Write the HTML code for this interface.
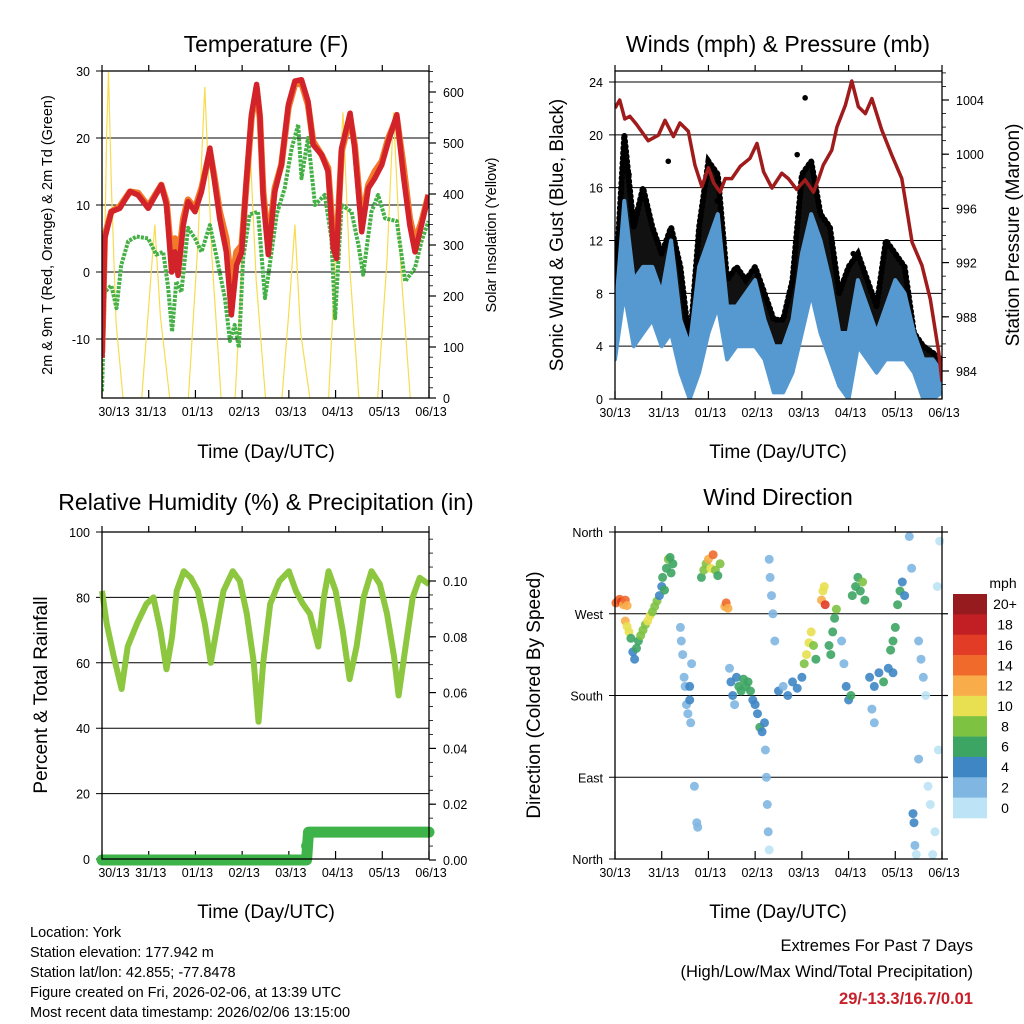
<!DOCTYPE html>
<html><head><meta charset="utf-8">
<style>
html,body{margin:0;padding:0;background:#fff;}
svg{display:block;font-family:"Liberation Sans",sans-serif;}
</style></head>
<body>
<svg id="fig" width="1024" height="1024" viewBox="0 0 1024 1024" xmlns="http://www.w3.org/2000/svg">
<rect x="0" y="0" width="1024" height="1024" fill="#fff"/>
<text x="266" y="52" font-size="23" text-anchor="middle">Temperature (F)</text>
<text x="778" y="52" font-size="23" text-anchor="middle">Winds (mph) &amp; Pressure (mb)</text>
<text x="266" y="510" font-size="23" text-anchor="middle">Relative Humidity (%) &amp; Precipitation (in)</text>
<text x="778" y="505" font-size="23" text-anchor="middle">Wind Direction</text>
<text x="266" y="458" font-size="19" text-anchor="middle">Time (Day/UTC)</text>
<text x="778" y="458" font-size="19" text-anchor="middle">Time (Day/UTC)</text>
<text x="266" y="918" font-size="19" text-anchor="middle">Time (Day/UTC)</text>
<text x="778" y="918" font-size="19" text-anchor="middle">Time (Day/UTC)</text>
<text transform="translate(52,235) rotate(-90)" font-size="14.5" text-anchor="middle">2m &amp; 9m T (Red, Orange) &amp; 2m Td (Green)</text>
<text transform="translate(496,235) rotate(-90)" font-size="14.5" text-anchor="middle">Solar Insolation (Yellow)</text>
<text transform="translate(563,235) rotate(-90)" font-size="19" text-anchor="middle">Sonic Wind &amp; Gust (Blue, Black)</text>
<text transform="translate(1019,235) rotate(-90)" font-size="19" text-anchor="middle">Station Pressure (Maroon)</text>
<text transform="translate(47,695) rotate(-90)" font-size="19" text-anchor="middle">Percent &amp; Total Rainfall</text>
<text transform="translate(540,695) rotate(-90)" font-size="19" text-anchor="middle">Direction (Colored By Speed)</text>
<g font-size="14.5">
<text x="30" y="937">Location: York</text>
<text x="30" y="957">Station elevation: 177.942 m</text>
<text x="30" y="977">Station lat/lon: 42.855; -77.8478</text>
<text x="30" y="997">Figure created on Fri, 2026-02-06, at 13:39 UTC</text>
<text x="30" y="1017">Most recent data timestamp: 2026/02/06 13:15:00</text>
</g>
<text x="973" y="951" font-size="16.5" text-anchor="end">Extremes For Past 7 Days</text>
<text x="973" y="977" font-size="16.5" text-anchor="end">(High/Low/Max Wind/Total Precipitation)</text>
<text x="973" y="1004" font-size="16.5" font-weight="bold" fill="#c8202a" text-anchor="end">29/-13.3/16.7/0.01</text>
</svg>
<script>
// ---------- data ----------
const dayLabels = ["30/13","31/13","01/13","02/13","03/13","04/13","05/13","06/13"];
const tempTicks = [30,20,10,0,-10];
const solarTicks = [600,500,400,300,200,100,0];
const speedTicks = [24,20,16,12,8,4,0];
const pressTicks = [1004,1000,996,992,988,984];
const rhTicks = [100,80,60,40,20,0];
const rainTicks = ["0.10","0.08","0.06","0.04","0.02","0.00"];
const dirTicks = ["North","West","South","East","North"];
const speedBins = ["20+","18","16","14","12","10","8","6","4","2","0"];

const tempT = [0,0.06,0.2,0.38,0.6,0.77,0.99,1.27,1.38,1.49,1.56,1.63,1.74,1.84,1.99,2.13,2.31,2.41,2.52,2.66,2.77,2.88,2.99,3.09,3.2,3.31,3.38,3.45,3.56,3.7,3.84,3.99,4.13,4.27,4.41,4.52,4.7,4.84,4.95,5.02,5.13,5.31,5.41,5.56,5.7,5.84,5.99,6.13,6.31,6.45,6.59,6.7,6.84,6.99];
const temp2m = [-12.8,5,9,9.5,12,11.5,9.5,13,10,0,3,-0.5,7,10.5,9,12,18.5,13.5,8,3,-6.4,1,3,13.5,23.5,28,23.5,11,2.6,12,16,25,28.5,28.7,25.5,19,17.5,15,3.6,2,18.5,23.7,18.5,6,12.5,14,16,19.5,23.5,14.5,7,3,7,11.5];
const temp9m = [-12,5.5,9,9.8,12,11.8,9.8,13,10.5,2,5,1,8,10.8,9.5,12.5,18,14,9,5,-2,3,4,13,23,27.5,23,12,4,12.5,16,24.5,28,28.2,25,19.5,17.5,15.5,5,3.5,18,23,19,7.5,13,15,16.5,20,23,16,8,4.5,7.5,11.5];
const dewT = [0,0.06,0.2,0.31,0.41,0.56,0.74,0.99,1.16,1.31,1.41,1.5,1.59,1.7,1.84,1.99,2.13,2.31,2.49,2.63,2.74,2.84,2.93,3.02,3.16,3.34,3.49,3.59,3.74,3.91,4.06,4.2,4.27,4.41,4.56,4.77,4.91,4.99,5.13,5.34,5.49,5.59,5.77,5.91,6.06,6.31,6.49,6.7,6.84,6.99];
const dewVals = [-17.8,-3,-2,-5.4,1,4.6,5.3,5,2.6,3,-2,-8.9,-1.4,-3,6.6,5,3,7,1,-3.9,-10.3,-7.9,-11.3,2,8.6,9,-3.9,1,8.6,12.5,18.5,22,14,20,10,11.5,5,-6.9,10,9,4,-0.4,9,11.5,8,7.6,-1.4,0.6,4.6,7.6];
const solarT = [0,0.05,0.1,0.14,0.2,0.3,0.45, 0.85,1.0,1.13,1.25,1.45, 1.85,2.05,2.2,2.35,2.55, 2.85,3.0,3.16,3.3,3.5, 3.85,4.0,4.13,4.25,4.45, 4.85,5.0,5.16,5.3,5.5, 5.9,6.1,6.24,6.4,6.6];
const solarVals = [0,250,520,640,420,150,0, 0,180,340,160,0, 0,300,610,280,0, 0,260,510,230,0, 0,170,340,130,0, 0,280,560,260,0, 0,270,560,250,0];

const windT = [0,0.2,0.4,0.6,0.8,1.0,1.2,1.4,1.6,1.8,2.0,2.2,2.4,2.6,2.8,3.0,3.2,3.4,3.6,3.8,4.0,4.2,4.4,4.6,4.8,5.0,5.2,5.4,5.6,5.8,6.0,6.2,6.4,6.6,6.8,7.0];
const windLo = [3,8,4,5,6,4,5,2,0,2,5,7,3,4,4,4,3,0.5,0.5,2,5,8,5,3,1,0,4,3,2,3,3,3,2,0,0,0.5];
const windHi = [6,15,9,10,10,8,12,6,4,10,12,14,7,7,8,9,6,4,4,6,11,14,12,9,5,5,9,7,5,7,9,8,5,3,3,2];
const gustHi = [8,20,13,16,13,11,13,10,4,13,18,17,9,10,9,10,8,6,6,9,17,18,14,13,8,10,11,9,7,12,11,10,5,4,3.5,3];
const gustOutT = [1.14,2.19,3.9,4.07,0.3,5.1];
const gustOutV = [18,15,18.5,22.8,17,11];
const pressT = [0,0.1,0.21,0.32,0.46,0.71,0.93,1.07,1.25,1.39,1.57,1.71,1.86,2.0,2.11,2.25,2.36,2.5,2.68,2.89,3.04,3.18,3.36,3.57,3.71,3.89,4.07,4.25,4.36,4.46,4.64,4.75,4.93,5.07,5.21,5.36,5.5,5.71,5.93,6.14,6.36,6.57,6.75,6.93,7.0];
const pressVals = [1003.4,1004,1002.6,1002.8,1002.2,1001,1001.4,1002.5,1001.3,1002.3,1001.7,999.2,997.6,999,997.9,997.2,998.2,998.2,999.1,999.7,1000.8,998.7,997.5,998.6,998.2,997.4,998.1,997.2,998.2,999.2,1000.3,1002,1003.6,1005.4,1003.5,1003,1004.1,1001.8,999.9,998.2,993.5,991.8,989.3,985.4,983.2];

const rhT = [0,0.1,0.25,0.42,0.55,0.75,0.95,1.1,1.25,1.38,1.5,1.6,1.75,1.9,2.05,2.2,2.33,2.45,2.6,2.8,2.95,3.1,3.25,3.35,3.45,3.6,3.8,4.0,4.15,4.3,4.45,4.63,4.75,4.85,5.0,5.15,5.3,5.45,5.6,5.77,5.95,6.1,6.25,6.35,6.5,6.65,6.8,7.0];
const rhVals = [82,72,62,52,65,72,78,80,70,58,68,82,88,86,82,72,60,70,82,88,85,75,60,42,60,78,85,88,82,78,75,65,80,88,82,70,55,65,80,88,84,75,62,50,65,80,86,84];
const rainT = [0,4.38,4.42,7.0];
const rainVals = [0,0,0.01,0.01];

const dirT = [0.02,0.06,0.1,0.14,0.18,0.22,0.26,0.22,0.26,0.3,0.34,0.38,0.42,0.46,0.5,0.55,0.6,0.65,0.7,0.75,0.8,0.85,0.9,0.95,1.0,1.02,1.06,1.1,1.14,1.18,1.2,1.24,1.4,1.42,1.45,1.48,1.5,1.53,1.56,1.6,1.62,1.64,1.7,1.75,1.77,1.6,1.85,1.9,1.95,2.0,2.05,2.1,2.15,2.2,2.25,2.35,2.38,2.42,2.45,2.48,2.52,2.56,2.6,2.65,2.7,2.75,2.8,2.85,2.9,2.95,3.0,3.05,3.1,3.15,3.2,3.22,3.24,3.26,3.28,3.3,3.3,3.32,3.35,3.38,3.42,3.5,3.6,3.7,3.8,3.9,4.0,4.05,4.1,4.15,4.2,4.25,4.3,4.42,4.45,4.48,4.5,4.58,4.62,4.66,4.7,4.74,4.85,4.9,4.95,5.0,5.05,5.08,5.15,5.2,5.25,5.3,5.35,5.45,5.55,5.65,5.75,5.85,5.95,5.5,5.55,5.9,5.95,6.0,6.05,6.1,6.15,6.2,6.3,6.35,6.38,6.4,6.42,6.45,6.5,6.55,6.6,6.65,6.7,6.75,6.8,6.85,6.9,6.95,6.92,6.5];
const dirVals = [282,284,286,283,280,285,279,262,256,250,243,228,220,232,240,246,252,258,262,268,272,278,284,290,300,310,296,320,330,332,315,325,255,240,225,200,190,170,160,175,150,215,80,40,35,190,310,318,325,330,320,335,318,312,325,278,282,276,210,195,180,170,200,190,185,198,190,195,185,175,170,160,145,140,150,120,90,60,30,10,330,310,290,270,240,185,190,180,195,188,200,215,225,238,250,235,220,285,295,300,280,235,225,250,265,275,240,215,190,175,180,290,300,310,295,305,285,200,190,205,195,210,205,165,150,230,240,255,280,295,305,290,355,320,50,40,15,5,240,220,200,180,80,60,5,30,300,350,120,110];
const dirSpd = [14,15,14,16,13,14,12,12,11,10,7,5,4,6,7,8,8,9,10,10,9,9,8,5,4,7,6,7,8,7,6,7,3,2,3,2,2,3,3,4,2,2,2,3,3,4,6,8,9,12,11,14,9,7,8,13,14,12,3,4,4,3,4,6,7,6,6,7,7,5,4,5,6,4,4,2,2,2,2,1,2,3,2,2,3,4,3,4,5,4,5,8,10,11,10,9,7,13,11,10,17,6,6,7,7,8,3,3,4,4,6,6,7,7,7,8,6,4,4,4,6,4,4,2,2,7,7,6,7,6,5,4,2,2,4,4,2,1,2,2,2,1,1,1,1,1,1,1,1,2];
const binColors = ["#961b1e","#c21f25","#e23b26","#f06a2c","#f8ad4a","#e8e050","#7ec242","#3da564","#3f86c4","#7fb6e2","#bde3f6"];

// ---------- helpers ----------
const NS = "http://www.w3.org/2000/svg";
const svg = document.getElementById("fig");
function mk(parent, tag, attrs, name, inter) {
  const el = document.createElementNS(NS, tag);
  for (const k in attrs) el.setAttribute(k, attrs[k]);
  
  
  parent.appendChild(el);
  return el;
}
function txt(parent, x, y, s, size, anchor, name) {
  const t = mk(parent, "text", {x: x, y: y, "font-size": size, "text-anchor": anchor}, name, false);
  t.textContent = s;
  return t;
}
function lin(d0, d1, r0, r1) { return v => r0 + (v - d0) * (r1 - r0) / (d1 - d0); }

const panels = {
  temp: {x0: 102, x1: 429, y0: 71, y1: 398},
  wind: {x0: 615, x1: 942, y0: 71, y1: 399},
  rh:   {x0: 102, x1: 429, y0: 532, y1: 859},
  dir:  {x0: 615, x1: 942, y0: 532, y1: 859}
};

function frame(p, key, firstLabelX) {
  const g = mk(svg, "g", {}, key + "-axes", false);
  const xs = lin(0, 7, p.x0, p.x1);
  for (let i = 0; i < dayLabels.length; i++) {
    const x = xs(i);
    mk(g, "line", {x1: x, x2: x, y1: p.y1, y2: p.y1 - 8, stroke: "#000", "stroke-width": 1.2}, key + "-x-tick", false);
    mk(g, "line", {x1: x, x2: x, y1: p.y0, y2: p.y0 - 6, stroke: "#000", "stroke-width": 1.2}, key + "-top-tick", false);
    const lx = i === 0 ? firstLabelX : x + 2;
    txt(g, lx, p.y1 + 18, dayLabels[i], 12.5, "middle", key + "-x-tick-label");
  }
  return {g: g, xs: xs};
}
function border(p, key) {
  mk(svg, "rect", {x: p.x0, y: p.y0, width: p.x1 - p.x0, height: p.y1 - p.y0, fill: "none", stroke: "#000", "stroke-width": 1.3}, key + "-plot-border", false);
}
function leftAxis(g, p, key, ticks, ys, labels) {
  for (let i = 0; i < ticks.length; i++) {
    const y = ys(ticks[i]);
    mk(g, "line", {x1: p.x0 - 6, x2: p.x1, y1: y, y2: y, stroke: "#000", "stroke-width": 1}, key + "-gridline", false);
    txt(g, p.x0 - 12, y + 5, labels ? labels[i] : String(ticks[i]), 12.5, "end", key + "-y-tick-label");
  }
}
function rightAxis(g, p, key, ticks, ys, labels, minorStep, lo, hi) {
  for (let v = lo; v <= hi + 1e-9; v += minorStep) {
    const y = ys(v);
    if (y < p.y0 - 0.5 || y > p.y1 + 0.5) continue;
    mk(g, "line", {x1: p.x1, x2: p.x1 + 4, y1: y, y2: y, stroke: "#000", "stroke-width": 0.8}, key + "-right-minor-tick", false);
  }
  for (let i = 0; i < ticks.length; i++) {
    const y = ys(ticks[i]);
    mk(g, "line", {x1: p.x1, x2: p.x1 + 7, y1: y, y2: y, stroke: "#000", "stroke-width": 1.2}, key + "-right-tick", false);
    txt(g, p.x1 + 14, y + 5, labels ? labels[i] : String(ticks[i]), 12.5, "start", key + "-right-tick-label");
  }
}
function pathD(xsArr, ysArr, xs, ys) {
  let d = "";
  for (let i = 0; i < xsArr.length; i++) d += (i ? "L" : "M") + xs(xsArr[i]).toFixed(1) + "," + ys(ysArr[i]).toFixed(1);
  return d;
}

// ---------- temperature ----------
(function() {
  const p = panels.temp;
  const f = frame(p, "temperature", 114);
  const yT = lin(0, 10, 272, 205);
  const yS = lin(0, 600, 398, 92);
  leftAxis(f.g, p, "temperature", tempTicks, yT);
  rightAxis(f.g, p, "solar", solarTicks, yS, null, 20, 0, 640);
  const clip = mk(svg, "clipPath", {id: "c1"}, "temperature-clip", false);
  mk(clip, "rect", {x: p.x0, y: p.y0, width: p.x1 - p.x0, height: p.y1 - p.y0}, "temperature-clip-rect", false);
  const g = mk(svg, "g", {"clip-path": "url(#c1)"}, "temperature-series", false);
  mk(g, "path", {d: pathD(solarT, solarVals, f.xs, yS), fill: "none", stroke: "#f7dc50", "stroke-width": 1.2}, "solar-line", false);
  mk(g, "path", {d: pathD(dewT, dewVals, f.xs, yT), fill: "none", stroke: "#45b045", "stroke-width": 4, "stroke-dasharray": "3 1.2", "stroke-linejoin": "round"}, "dewpoint-line", false);
  mk(g, "path", {d: pathD(tempT, temp9m, f.xs, yT), fill: "none", stroke: "#f27a2a", "stroke-width": 6.5, "stroke-linejoin": "round"}, "temp-9m-line", false);
  mk(g, "path", {d: pathD(tempT, temp2m, f.xs, yT), fill: "none", stroke: "#d3232a", "stroke-width": 5.5, "stroke-linejoin": "round"}, "temp-2m-line", false);
  border(p, "temperature");
})();

// ---------- winds ----------
(function() {
  const p = panels.wind;
  const f = frame(p, "winds", 615);
  const yW = lin(0, 24, 399, 82);
  const yP = lin(984, 1004, 371, 100);
  leftAxis(f.g, p, "winds", speedTicks, yW);
  rightAxis(f.g, p, "pressure", pressTicks, yP, null, 1, 983, 1006);
  const clip = mk(svg, "clipPath", {id: "c2"}, "winds-clip", false);
  mk(clip, "rect", {x: p.x0, y: p.y0, width: p.x1 - p.x0, height: p.y1 - p.y0}, "winds-clip-rect", false);
  const g = mk(svg, "g", {"clip-path": "url(#c2)"}, "winds-series", false);
  const rt = windT.slice().reverse();
  const gustPoly = pathD(windT.concat(rt), gustHi.concat(windLo.slice().reverse()), f.xs, yW) + "Z";
  mk(g, "path", {d: gustPoly, fill: "#111", stroke: "#111", "stroke-width": 3, "stroke-linejoin": "round"}, "gust-band", false);
  mk(g, "path", {d: pathD(windT, gustHi, f.xs, yW), fill: "none", stroke: "#000", "stroke-width": 6, "stroke-dasharray": "1 4", "stroke-linecap": "round"}, "gust-dots", false);
  for (let i = 0; i < gustOutT.length; i++) {
    mk(g, "circle", {cx: f.xs(gustOutT[i]), cy: yW(gustOutV[i]), r: 2.8, fill: "#000"}, "gust-outlier", false);
  }
  const windPoly = pathD(windT.concat(rt), windHi.concat(windLo.slice().reverse()), f.xs, yW) + "Z";
  mk(g, "path", {d: windPoly, fill: "#5599d0", stroke: "#5599d0", "stroke-width": 4, "stroke-linejoin": "round"}, "wind-band", false);
  mk(g, "path", {d: pathD(pressT, pressVals, f.xs, yP), fill: "none", stroke: "#a01c1c", "stroke-width": 3.5, "stroke-linejoin": "round"}, "pressure-line", false);
  border(p, "winds");
})();

// ---------- humidity ----------
(function() {
  const p = panels.rh;
  const f = frame(p, "humidity", 114);
  const yR = lin(0, 100, 859, 532);
  const yP = lin(0, 0.1, 860, 581);
  leftAxis(f.g, p, "humidity", rhTicks, yR);
  rightAxis(f.g, p, "rain", [0.1,0.08,0.06,0.04,0.02,0], yP, rainTicks, 0.005, 0, 0.115);
  const clip = mk(svg, "clipPath", {id: "c3"}, "humidity-clip", false);
  mk(clip, "rect", {x: p.x0 - 8, y: p.y0, width: p.x1 - p.x0 + 16, height: p.y1 - p.y0 + 8}, "humidity-clip-rect", false);
  const g = mk(svg, "g", {"clip-path": "url(#c3)"}, "humidity-series", false);
  mk(g, "path", {d: pathD(rhT, rhVals, f.xs, yR), fill: "none", stroke: "#8dc63f", "stroke-width": 6, "stroke-linejoin": "round"}, "humidity-line", false);
  mk(g, "path", {d: pathD(rainT, rainVals, f.xs, yP), fill: "none", stroke: "#3eb34a", "stroke-width": 11, "stroke-linecap": "round", "stroke-linejoin": "round"}, "rain-line", false);
  mk(g, "circle", {cx: f.xs(rainT[1]), cy: yP(0.005), r: 5.5, fill: "#3eb34a"}, "rain-step-point", false);
  border(p, "humidity");
})();

// ---------- direction ----------
(function() {
  const p = panels.dir;
  const f = frame(p, "direction", 615);
  const yD = lin(0, 360, 859, 532);
  leftAxis(f.g, p, "direction", [360,270,180,90,0], yD, dirTicks);
  for (const v of [360,270,180,90,0]) {
    mk(f.g, "line", {x1: p.x1, x2: p.x1 + 6, y1: yD(v), y2: yD(v), stroke: "#000", "stroke-width": 1.2}, "direction-right-tick", false);
  }
  const g = mk(svg, "g", {}, "direction-points", false);
  for (let i = 0; i < dirT.length; i++) {
    let b = Math.floor(dirSpd[i] / 2);
    if (b > 10) b = 10;
    const c = binColors[10 - b];
    mk(g, "circle", {cx: f.xs(dirT[i]).toFixed(1), cy: yD(dirVals[i]).toFixed(1), r: 4.5, fill: c, "fill-opacity": 0.9}, "direction-point", false);
  }
  border(p, "direction");
  const lg = mk(svg, "g", {}, "speed-colorbar", false);
  txt(lg, 1003, 588, "mph", 14, "middle", "colorbar-title");
  const h = 224 / 11;
  for (let i = 0; i < speedBins.length; i++) {
    mk(lg, "rect", {x: 953, y: 594 + i * h, width: 34, height: h + 0.3, fill: binColors[i]}, "colorbar-swatch", false);
    txt(lg, 1005, 594 + i * h + h / 2 + 5, speedBins[i], 14, "middle", "colorbar-label");
  }
})();
</script>
</body></html>
